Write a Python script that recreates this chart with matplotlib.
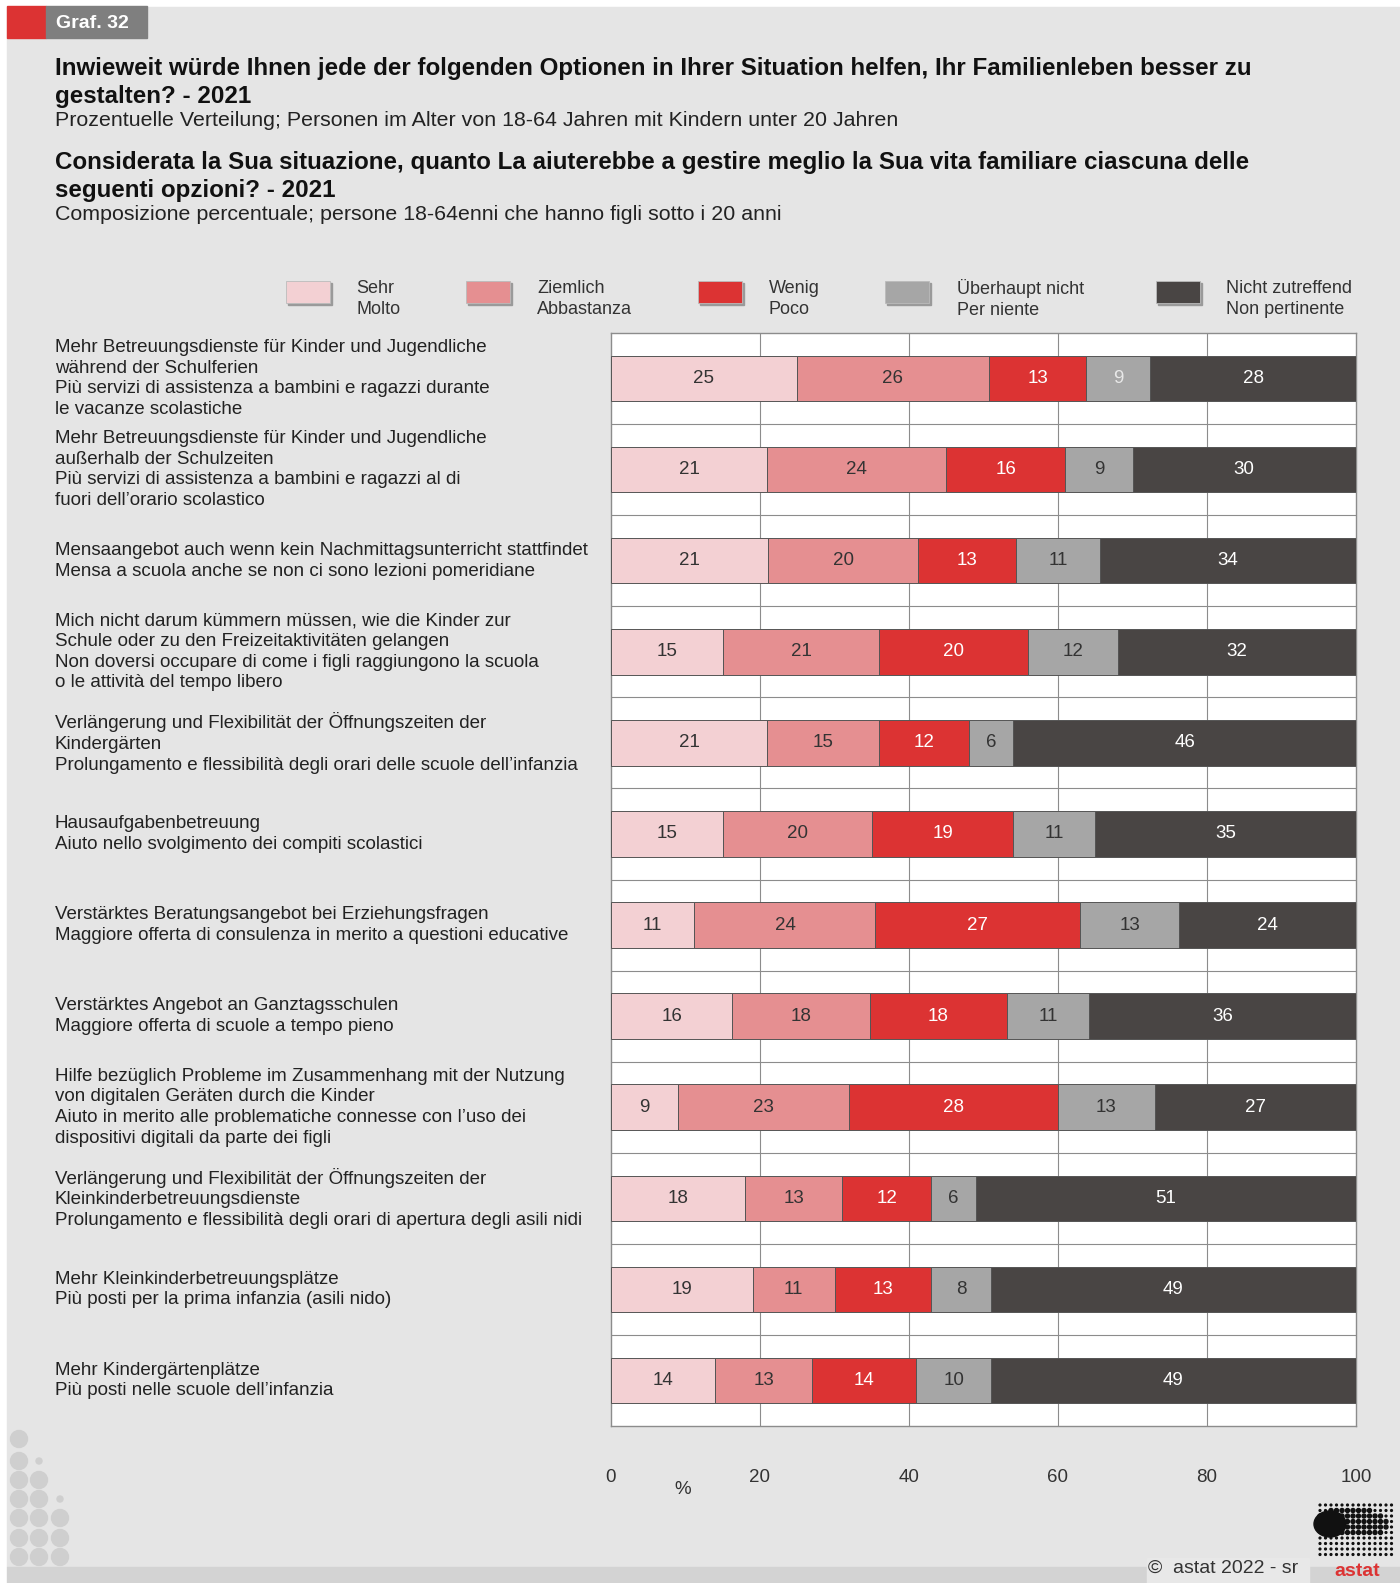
import matplotlib
matplotlib.use("Agg")
import matplotlib.pyplot as plt
from matplotlib.patches import Rectangle, Ellipse
from matplotlib.transforms import blended_transform_factory
import numpy as np

# data: percentages per option (top to bottom)
categories = [
    "Mehr Betreuungsdienste für Kinder und Jugendliche\nwährend der Schulferien\nPiù servizi di assistenza a bambini e ragazzi durante\nle vacanze scolastiche",
    "Mehr Betreuungsdienste für Kinder und Jugendliche\naußerhalb der Schulzeiten\nPiù servizi di assistenza a bambini e ragazzi al di\nfuori dell’orario scolastico",
    "Mensaangebot auch wenn kein Nachmittagsunterricht stattfindet\nMensa a scuola anche se non ci sono lezioni pomeridiane",
    "Mich nicht darum kümmern müssen, wie die Kinder zur\nSchule oder zu den Freizeitaktivitäten gelangen\nNon doversi occupare di come i figli raggiungono la scuola\no le attività del tempo libero",
    "Verlängerung und Flexibilität der Öffnungszeiten der\nKindergärten\nProlungamento e flessibilità degli orari delle scuole dell’infanzia",
    "Hausaufgabenbetreuung\nAiuto nello svolgimento dei compiti scolastici",
    "Verstärktes Beratungsangebot bei Erziehungsfragen\nMaggiore offerta di consulenza in merito a questioni educative",
    "Verstärktes Angebot an Ganztagsschulen\nMaggiore offerta di scuole a tempo pieno",
    "Hilfe bezüglich Probleme im Zusammenhang mit der Nutzung\nvon digitalen Geräten durch die Kinder\nAiuto in merito alle problematiche connesse con l’uso dei\ndispositivi digitali da parte dei figli",
    "Verlängerung und Flexibilität der Öffnungszeiten der\nKleinkinderbetreuungsdienste\nProlungamento e flessibilità degli orari di apertura degli asili nidi",
    "Mehr Kleinkinderbetreuungsplätze\nPiù posti per la prima infanzia (asili nido)",
    "Mehr Kindergärtenplätze\nPiù posti nelle scuole dell’infanzia",
]
sehr = [24.9, 21, 21.1, 15, 21, 15, 11.2, 16.3, 9, 18, 19, 14]
ziemlich = [25.9, 24, 20.1, 21, 15, 20, 24.3, 18.4, 23, 13, 11, 13]
wenig = [12.9, 16, 13.2, 20, 12, 19, 27.4, 18.4, 28, 12, 13, 14]
ueberhaupt = [8.7, 9, 11.2, 12, 6, 11, 13.4, 11.1, 13, 6, 8, 10]
nicht = [27.6, 30, 34.4, 32, 46, 35, 23.7, 35.8, 27, 51, 49, 49]

series_labels = ["Sehr\nMolto", "Ziemlich\nAbbastanza", "Wenig\nPoco",
                 "Überhaupt nicht\nPer niente", "Nicht zutreffend\nNon pertinente"]
colors = ["#f3d0d3", "#e58f91", "#dc3333", "#a6a6a6", "#494544"]
text_colors = ["#333333", "#333333", "white", "#333333", "white"]

W, H = 1400, 1583
plt.rcParams["font.family"] = ["Liberation Sans", "DejaVu Sans"]


def fx(px):
    return px / W


def fy(py):
    return 1 - py / H


fig = plt.figure(figsize=(W / 100, H / 100), dpi=100)
fig.patch.set_facecolor("white")

# background panels
fig.add_artist(Rectangle((fx(7), fy(1567)), fx(W - 7), (1567 - 7) / H,
                         transform=fig.transFigure, color="#e5e5e5", zorder=0))
fig.add_artist(Rectangle((fx(7), 0), fx(W - 7), 16 / H,
                         transform=fig.transFigure, color="#d3d3d3", zorder=0))
fig.add_artist(Rectangle((fx(1147), 0), fx(162), 25 / H,
                         transform=fig.transFigure, color="#e8e8e8", zorder=0))

# header tag
fig.add_artist(Rectangle((fx(7), fy(38)), fx(39), 32 / H,
                         transform=fig.transFigure, color="#dc3333", zorder=1))
fig.add_artist(Rectangle((fx(46), fy(38)), fx(101), 32 / H,
                         transform=fig.transFigure, color="#7f7f7f", zorder=1))
fig.text(fx(56), fy(23), "Graf. 32", color="white", fontsize=14, fontweight="bold",
         va="center", ha="left")

# titles
fig.text(fx(55), fy(69), "Inwieweit würde Ihnen jede der folgenden Optionen in Ihrer Situation helfen, Ihr Familienleben besser zu",
         fontsize=17.4, fontweight="bold", va="center", color="#111111")
fig.text(fx(55), fy(96), "gestalten? - 2021", fontsize=17.4, fontweight="bold", va="center", color="#111111")
fig.text(fx(55), fy(121), "Prozentuelle Verteilung; Personen im Alter von 18-64 Jahren mit Kindern unter 20 Jahren",
         fontsize=15.4, va="center", color="#222222")
fig.text(fx(55), fy(163), "Considerata la Sua situazione, quanto La aiuterebbe a gestire meglio la Sua vita familiare ciascuna delle",
         fontsize=17.4, fontweight="bold", va="center", color="#111111")
fig.text(fx(55), fy(190), "seguenti opzioni? - 2021", fontsize=17.4, fontweight="bold", va="center", color="#111111")
fig.text(fx(55), fy(215), "Composizione percentuale; persone 18-64enni che hanno figli sotto i 20 anni",
         fontsize=15.4, va="center", color="#222222")

# legend
leg_patch_x = [286, 466, 698, 885, 1156]
leg_text_x = [356, 537, 769, 957, 1226]
for lbl, c, px, tx in zip(series_labels, colors, leg_patch_x, leg_text_x):
    fig.add_artist(Rectangle((fx(px + 2), fy(305)), fx(44), 22 / H,
                             transform=fig.transFigure, color="#9a9a9a", zorder=1))
    fig.add_artist(Rectangle((fx(px), fy(303)), fx(44), 22 / H,
                             transform=fig.transFigure, facecolor=c, edgecolor="#bbbbbb",
                             lw=0.6, zorder=2))
    fig.text(fx(tx), fy(299), lbl, fontsize=13, va="center",
             ha="left", color="#333333", linespacing=1.3)

# chart
ax = fig.add_axes([fx(611), fy(1426), fx(1356 - 611), (1426 - 333) / H])
ax.set_facecolor("white")
y = np.arange(len(categories))
series = [sehr, ziemlich, wenig, ueberhaupt, nicht]
left = np.zeros(len(categories))
for i, (vals, c) in enumerate(zip(series, colors)):
    vals = np.array(vals, dtype=float)
    ax.barh(y, vals, left=left, height=0.5, color=c, edgecolor="#555555", lw=0.7, zorder=3)
    for j, v in enumerate(vals):
        tc = text_colors[i]
        if i == 3 and j == 0:
            tc = "#e8e8e8"
        ax.text(left[j] + v / 2, j, f"{v:.0f}", ha="center", va="center",
                fontsize=13.5, color=tc, zorder=4)
    left += vals

ax.set_xlim(0, 100)
ax.set_ylim(len(categories) - 0.5, -0.5)
for xv in [20, 40, 60, 80]:
    ax.axvline(xv, color="#8c8c8c", lw=0.8, zorder=1)
for yv in np.arange(0.5, len(categories) - 0.5, 1):
    ax.axhline(yv, color="#8c8c8c", lw=0.8, zorder=1)
for s in ax.spines.values():
    s.set_color("#8c8c8c")
    s.set_linewidth(1.0)
ax.set_yticks([])
ax.set_xticks([0, 20, 40, 60, 80, 100])
ax.tick_params(axis="x", length=0, pad=31, labelsize=13.5, labelcolor="#333333")
fig.text(fx(683), fy(1489), "%", fontsize=13.5, ha="center", va="center", color="#333333")

# category labels
trans = blended_transform_factory(fig.transFigure, ax.transData)
for j, lab in enumerate(categories):
    ax.text(fx(55), j, lab, transform=trans, ha="left", va="center", fontsize=13.5,
            color="#222222", linespacing=1.28, clip_on=False)

# decorative dots bottom-left
dot_cols = [19, 39, 60]
dot_rows = [1439, 1461, 1480, 1499, 1518, 1538, 1557]
for ci, cx in enumerate(dot_cols):
    for ri, cy in enumerate(dot_rows):
        if ri >= 2 * ci:
            r = 8.5
        elif ri == 2 * ci - 1:
            r = 3
        else:
            continue
        fig.add_artist(Ellipse((fx(cx), fy(cy)), 2 * r / W, 2 * r / H,
                               transform=fig.transFigure, color="#cfcfcf", zorder=1))

# copyright and logo
fig.text(fx(1148), fy(1568), "©  astat 2022 - sr", fontsize=14, ha="left", va="center", color="#333333")
fig.add_artist(Ellipse((fx(1330), fy(1524)), 32 / W, 26 / H,
                       transform=fig.transFigure, color="#111111", zorder=1))
gx = np.arange(1320, 1392, 5.5)
gy = np.arange(1505, 1556, 5.5)
for cx in gx:
    for cy in gy:
        inside = ((cx - 1352) / 38) ** 2 + ((cy - 1523) / 15) ** 2 < 1
        s = 2.0 if inside else 0.9
        fig.add_artist(Ellipse((fx(cx), fy(cy)), 2 * s / W, 2 * s / H,
                               transform=fig.transFigure, color="#111111", zorder=1))
fig.text(fx(1357), fy(1571), "astat", fontsize=14, fontweight="bold", ha="center",
         va="center", color="#dc3333")

plt.savefig("out.png", dpi=100)
